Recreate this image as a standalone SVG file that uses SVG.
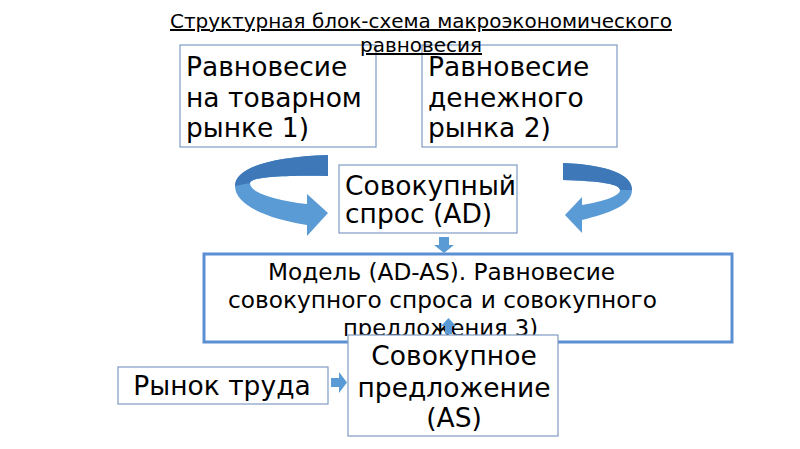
<svg xmlns="http://www.w3.org/2000/svg" width="800" height="449" viewBox="0 0 800 449">
<style>
  text { font-family: "DejaVu Sans", "Liberation Sans", sans-serif; fill: #000; }
  .t { font-size: 20px; text-decoration: underline; }
  .b { fill: #fff; stroke: #7f9cc4; stroke-width: 1.2; }
  .big { fill: #fff; stroke: #5b8fd3; stroke-width: 3; }
  .l { font-size: 26.5px; }
  .m { font-size: 22.5px; }
  .arr { fill: #5b9bd5; }
  .dk { fill: #3f78b8; }
</style>
<rect width="800" height="449" fill="#fff"/>
<g id="title">
  <text class="t" x="421" y="28" text-anchor="middle" textLength="502" lengthAdjust="spacingAndGlyphs">Структурная блок-схема макроэкономического</text>
</g>
<g id="box1">
  <rect class="b" x="180" y="45" width="196" height="102"/>
  <text class="l" x="186" y="76">Равновесие</text>
  <text class="l" x="186" y="107">на товарном</text>
  <text class="l" x="186" y="137">рынке 1)</text>
</g>
<g id="box2">
  <rect class="b" x="422" y="45" width="195" height="102"/>
  <text class="l" x="428" y="76">Равновесие</text>
  <text class="l" x="428" y="107">денежного</text>
  <text class="l" x="428" y="137">рынка 2)</text>
</g>
<g id="title2">
  <text class="t" x="421" y="52" text-anchor="middle" textLength="122" lengthAdjust="spacingAndGlyphs">равновесия</text>
</g>
<g id="box3">
  <rect class="b" x="339" y="165" width="178" height="68"/>
  <text class="l" x="345" y="195">Совокупный</text>
  <text class="l" x="345" y="223">спрос (AD)</text>
</g>
<g id="box4">
  <rect class="big" x="204" y="254" width="528" height="88"/>
  <text class="m" x="441.5" y="280" text-anchor="middle" textLength="347" lengthAdjust="spacingAndGlyphs">Модель (AD-AS). Равновесие</text>
  <text class="m" x="442.5" y="308" text-anchor="middle" textLength="429" lengthAdjust="spacingAndGlyphs">совокупного спроса и совокупного</text>
  <text class="m" x="440.5" y="336" text-anchor="middle" textLength="195" lengthAdjust="spacingAndGlyphs">предложения 3)</text>
</g>
<g id="box5">
  <rect class="b" x="348" y="335" width="210" height="101"/>
  <text class="l" x="454" y="365" text-anchor="middle">Совокупное</text>
  <text class="l" x="454" y="397" text-anchor="middle">предложение</text>
  <text class="l" x="454" y="427" text-anchor="middle">(AS)</text>
</g>
<g id="box6">
  <rect class="b" x="118" y="367" width="210" height="37"/>
  <text class="l" x="222" y="395" text-anchor="middle">Рынок труда</text>
</g>
<g id="connectors">
  <path class="arr" d="M328,155 C270,157 235,168 235,186 C235,206 270,219 307,225 L307,236 L328,213 L307,194 L307,204 C275,200 250,193 250,183 C250,177 285,175 328,176 Z"/>
  <path class="dk" d="M328,155 C270,157 235,168 235,186 L250,183 C250,177 285,175 328,176 Z"/>
  <path class="arr" d="M563,163 C610,165 632,175 632,190 C632,205 610,213 582,220 L582,233 L565,215 L582,197 L582,205 C605,201 620,196 620,190 C620,184 600,181 563,180 Z"/>
  <path class="dk" d="M563,163 C610,165 632,175 632,190 L620,190 C620,184 600,181 563,180 Z"/>
  <path class="arr" d="M439,237 L449,237 L449,245 L454,245 L444,253 L434,245 L439,245 Z"/>
  <path class="arr" d="M445,334 L452,334 L452,326 L456,326 L448.5,318 L441,326 L445,326 Z"/>
  <path class="arr" d="M331,378 L339,378 L339,372 L347,382.5 L339,393 L339,387 L331,387 Z"/>
</g>
</svg>
